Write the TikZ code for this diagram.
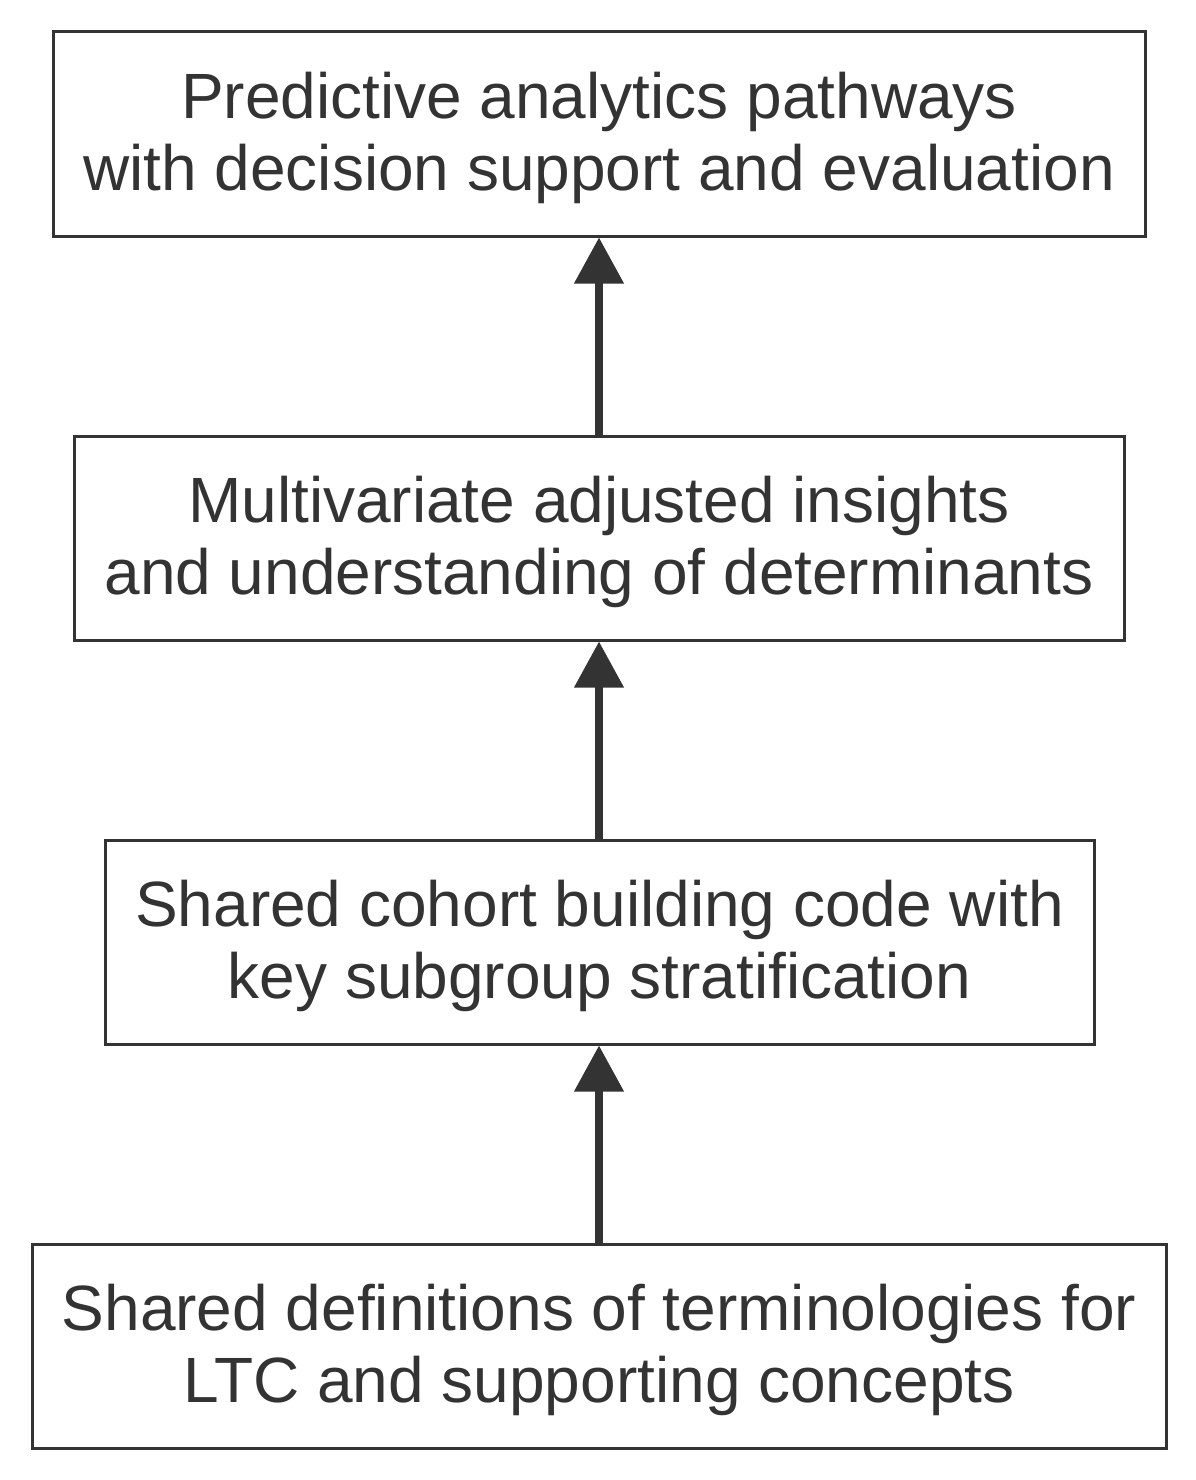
\documentclass[tikz,border=0pt]{standalone}
\usepackage{fontspec}
\setmainfont{Liberation Sans}
\usetikzlibrary{arrows.meta}
\definecolor{ink}{HTML}{333333}
\newcommand{\topstrut}{\rule{0pt}{55pt}}
\begin{document}
\begin{tikzpicture}[x=1pt,y=-1pt,
  box/.style={draw=ink,line width=3pt,text=ink,align=center,minimum height=204pt,inner sep=0pt,
    font=\fontsize{64}{72}\selectfont},
  link/.style={draw=ink,line width=7.5pt,-{Triangle[width=48pt,length=46pt]}}]
\useasboundingbox (0,0) rectangle (1196,1480);
\node[box,minimum width=1092pt] (a) at (599,134) {\topstrut Predictive analytics pathways\\with decision support and evaluation};
\node[box,minimum width=1050pt] (b) at (599,538) {\topstrut Multivariate adjusted insights\\and understanding of determinants};
\node[box,minimum width=989pt] (c) at (599.5,942) {\topstrut Shared cohort building code with\\key subgroup stratification};
\node[box,minimum width=1134pt] (d) at (599,1346) {\topstrut Shared definitions of terminologies for\\LTC and supporting concepts};
\draw[link] (d.north -| 599,0) -- (c.south -| 599,0);
\draw[link] (c.north -| 599,0) -- (b.south -| 599,0);
\draw[link] (b.north -| 599,0) -- (a.south -| 599,0);
\end{tikzpicture}
\end{document}
